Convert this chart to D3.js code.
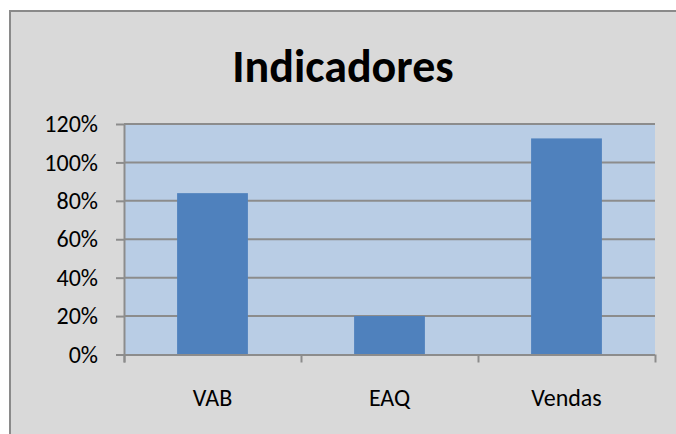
<!DOCTYPE html>
<html>
<head>
<meta charset="utf-8">
<script src="https://cdn.jsdelivr.net/npm/d3@7"></script>
<style>
  body { margin: 0; background: #fff; }
  svg { display: block; }
</style>
</head>
<body>
<div id="chart"></div>
<script>
const categories = ["VAB", "EAQ", "Vendas"];
const values = [0.84, 0.20, 1.125];
const yTicks = [0, 0.2, 0.4, 0.6, 0.8, 1.0, 1.2];
const title = "Indicadores";

const w = 676, h = 434;
const fontFamily = "Carlito, Calibri, Lato, sans-serif";
const labelSize = "24px";
const margin = { left: 124, right: 21, top: 124, bottom: 79.5 };

const svg = d3.select("#chart")
  .append("svg")
  .attr("width", w)
  .attr("height", h);

// chart area (only top/left border visible)
svg.append("rect")
  .attr("x", 10).attr("y", 11)
  .attr("width", w).attr("height", h)
  .attr("fill", "#d9d9d9")
  .attr("stroke", "#8a8a8a")
  .attr("stroke-width", 2);

const xScale = d3.scaleBand()
  .domain(categories)
  .range([margin.left, w - margin.right])
  .paddingInner(0.6)
  .paddingOuter(0.3);

const yScale = d3.scaleLinear()
  .domain([0, 1.2])
  .range([h - margin.bottom, margin.top]);

// plot area
svg.append("rect")
  .attr("x", margin.left)
  .attr("y", margin.top)
  .attr("width", w - margin.right - margin.left)
  .attr("height", h - margin.bottom - margin.top)
  .attr("fill", "#b9cde5");

// gridlines
svg.append("g")
  .selectAll("line")
  .data(yTicks.slice(1))
  .join("line")
  .attr("x1", margin.left)
  .attr("x2", w - margin.right)
  .attr("y1", (d) => yScale(d))
  .attr("y2", (d) => yScale(d))
  .attr("stroke", "#8c8c8c")
  .attr("stroke-width", 2);

// bars
svg.append("g")
  .selectAll("rect")
  .data(values)
  .join("rect")
  .attr("x", (d, i) => xScale(categories[i]))
  .attr("y", (d) => yScale(d))
  .attr("width", xScale.bandwidth())
  .attr("height", (d) => yScale(0) - yScale(d))
  .attr("fill", "#4f81bd");

// y axis
const yAxis = svg.append("g")
  .attr("transform", `translate(${margin.left}, 0)`)
  .call(d3.axisLeft(yScale)
    .tickValues(yTicks)
    .tickSize(8)
    .tickPadding(18)
    .tickFormat(d3.format(".0%")));

// x axis: tick marks at category boundaries
const edgeScale = d3.scaleLinear()
  .domain([0, categories.length])
  .range([margin.left, w - margin.right]);
const xAxis = svg.append("g")
  .attr("transform", `translate(0, ${h - margin.bottom})`)
  .call(d3.axisBottom(edgeScale)
    .tickValues(d3.range(categories.length + 1))
    .tickSize(8)
    .tickFormat(""));

[xAxis, yAxis].forEach((ax) => {
  ax.select(".domain").attr("stroke", "#8c8c8c").attr("stroke-width", 2);
  ax.selectAll("line").attr("stroke", "#8c8c8c").attr("stroke-width", 2);
});
xAxis.select(".domain").attr("d", `M${margin.left - 8},0.5H${w - margin.right}`);
yAxis.select(".domain").attr("d", `M0.5,${margin.top}V${h - margin.bottom + 8}`);

yAxis.selectAll("text")
  .attr("fill", "#000")
  .attr("font-family", fontFamily)
  .attr("font-size", labelSize);

// category labels
svg.append("g")
  .selectAll("text")
  .data(categories)
  .join("text")
  .attr("x", (d) => xScale(d) + xScale.bandwidth() / 2)
  .attr("y", 406)
  .attr("text-anchor", "middle")
  .attr("font-family", fontFamily)
  .attr("font-size", labelSize)
  .attr("fill", "#000")
  .text((d) => d);

// title
svg.append("text")
  .attr("x", 343)
  .attr("y", 82)
  .attr("text-anchor", "middle")
  .attr("font-family", fontFamily)
  .attr("font-weight", "bold")
  .attr("font-size", "46px")
  .attr("fill", "#000")
  .text(title);
</script>
</body>
</html>
